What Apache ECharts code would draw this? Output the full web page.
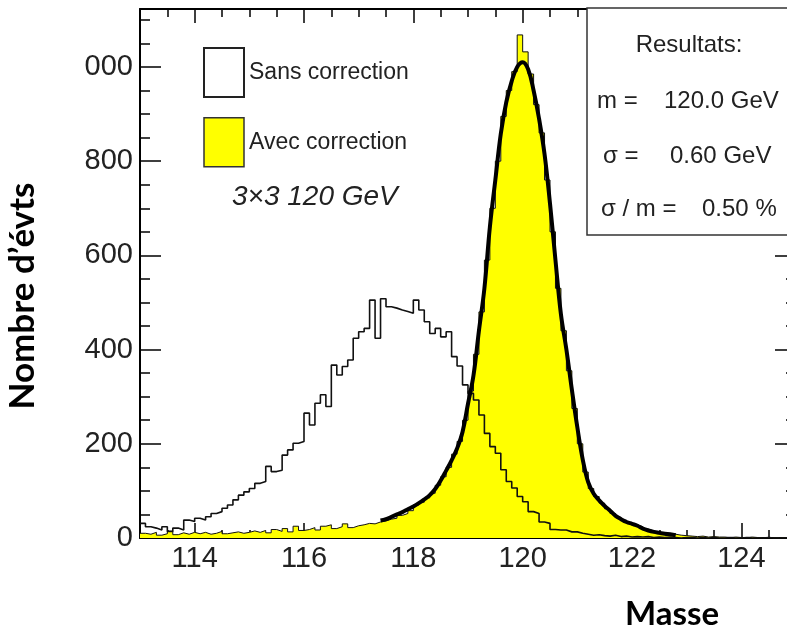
<!DOCTYPE html>
<html>
<head>
<meta charset="utf-8">
<script src="https://cdn.jsdelivr.net/npm/echarts@6/dist/echarts.min.js"></script>
<style>
  html, body { margin: 0; padding: 0; background: #fff; overflow: hidden; width: 787px; height: 630px; }
  #chart { width: 796px; height: 630px; }
</style>
</head>
<body>
<div id="chart"></div>
<script>
// ---- Data ----
const massMin = 113;      // lower edge of first bin (GeV)
const massMax = 125;      // upper edge of last bin (GeV)
const binWidth = 0.1;     // GeV

// "Sans correction" histogram, 120 bins of 0.1 GeV from 113.0
const sansCorrection = [
  31, 24, 21, 17, 24, 14, 21, 17, 38, 35,
  42, 38, 45, 52, 56, 63, 70, 81, 91, 98,
  105, 116, 120, 152, 141, 144, 176, 187, 201, 205,
  265, 240, 286, 304, 279, 367, 346, 364, 378, 424,
  438, 445, 505, 424, 508, 491, 488, 484, 481, 477,
  505, 484, 459, 434, 445, 427, 438, 385, 365, 325,
  307, 293, 261, 222, 194, 180, 145, 120, 106, 88,
  77, 56, 52, 34, 31, 18, 17, 17, 13, 13,
  10, 8, 6, 7, 5, 4, 6, 3, 4, 2,
  3, 2, 3, 1, 2, 1, 2, 1, 0, 1,
  1, 0, 1, 0, 1, 0, 0, 1, 0, 0,
  1, 0, 0, 0, 1, 0, 0, 0, 0, 0
];

// "Avec correction" histogram, same binning
const avecCorrection = [
  10, 8, 12, 6, 9, 14, 7, 11, 8, 12,
  9, 12, 8, 10, 14, 9, 11, 13, 10, 12,
  15, 12, 16, 11, 18, 14, 20, 13, 25, 16,
  18, 22, 17, 25, 28, 20, 24, 30, 22, 26,
  28, 31, 30, 34, 36, 40, 42, 48, 52, 58,
  70, 76, 85, 95, 112, 130, 150, 178, 205, 250,
  312, 390, 480, 590, 700, 800, 895, 950, 990, 1068,
  1032, 985, 920, 860, 760, 650, 530, 440, 355, 275,
  200, 140, 105, 88, 74, 62, 52, 44, 38, 32,
  28, 24, 19, 15, 12, 11, 9, 8, 6, 5,
  4, 3, 4, 2, 3, 2, 2, 1, 2, 1,
  1, 2, 1, 0, 1, 1, 0, 1, 0, 0
];

// Fit curve (mass in GeV, counts)
const fitMass = [
  117.4, 117.5, 117.6, 117.7, 117.8, 117.9, 118.0, 118.1, 118.2, 118.3,
  118.4, 118.5, 118.6, 118.7, 118.8, 118.9, 119.0, 119.1, 119.2, 119.3,
  119.4, 119.5, 119.6, 119.7, 119.8, 119.9, 120.0, 120.1, 120.2, 120.3,
  120.4, 120.5, 120.6, 120.7, 120.8, 120.9, 121.0, 121.1, 121.2, 121.3,
  121.4, 121.5, 121.6, 121.7, 121.8, 121.9, 122.0, 122.1, 122.2, 122.3,
  122.4, 122.5, 122.6, 122.7, 122.8
];
const fitValues = [
  37, 40, 45, 50, 55, 61, 67, 74, 82, 91,
  104, 122, 143, 165, 190, 225, 285, 345, 440, 530,
  660, 760, 858, 925, 970, 1000, 1010, 995, 950, 890,
  815, 710, 590, 475, 400, 315, 235, 166, 118, 94,
  80, 68, 58, 47, 40, 34, 30, 26, 20, 16,
  13, 11, 9, 8, 6
];

const yMax = 1123;
const yTickValues = [0, 200, 400, 600, 800, 1000];
const yTickLabels = ['0', '200', '400', '600', '800', '000'];

const seriesNames = ['Sans correction', 'Avec correction'];
const resultLines = [
  ['m =', '120.0 GeV'],
  ['\u03c3 =', '0.60 GeV'],
  ['\u03c3 / m =', '0.50 %']
];

// ---- Build step points: left edges + closing right edge ----
function stepPoints(values) {
  const pts = values.map((v, i) => [+(massMin + i * binWidth).toFixed(2), v]);
  pts.push([massMax, values[values.length - 1]]);
  return pts;
}
const fitPts = fitMass.map((m, i) => [m, fitValues[i]]);

const FONT = '"Liberation Sans", Arial, Helvetica, sans-serif';
const TITLE_FONT = 'Lato, "Open Sans", sans-serif';

const chart = echarts.init(document.getElementById('chart'), null, { renderer: 'canvas' });

const axisLineStyle = { color: '#000', width: 2 };
const tickStyle = { color: '#000', width: 1.5 };

const option = {
  animation: false,
  backgroundColor: '#fff',
  grid: { left: 140, top: 9, right: 0, bottom: 92 },
  legend: {
    orient: 'vertical',
    left: 203, top: 47,
    padding: 0,
    itemWidth: 40, itemHeight: 49, itemGap: 19,
    selectedMode: false,
    textStyle: { fontFamily: FONT, fontSize: 23, color: '#222' },
    data: [
      { name: seriesNames[0], icon: 'rect', itemStyle: { color: '#ffffff', borderColor: '#222', borderWidth: 2 } },
      { name: seriesNames[1], icon: 'rect', itemStyle: { color: '#ffff00', borderColor: '#333', borderWidth: 1.5 } }
    ]
  },
  xAxis: [
    {
      type: 'value', min: massMin, max: massMax, splitNumber: 6, position: 'bottom',
      axisLine: { onZero: false, lineStyle: axisLineStyle },
      axisTick: { inside: true, length: 15, lineStyle: tickStyle },
      minorTick: { show: true, splitNumber: 4, length: 8, lineStyle: tickStyle },
      axisLabel: { showMinLabel: false, showMaxLabel: false, margin: 6, fontSize: 29, fontFamily: FONT, color: '#222' },
      splitLine: { show: false }
    },
    {
      type: 'value', min: massMin, max: massMax, splitNumber: 6, position: 'top',
      axisLine: { onZero: false, lineStyle: axisLineStyle },
      axisTick: { inside: true, length: 14, lineStyle: tickStyle },
      minorTick: { show: true, splitNumber: 4, length: 8, lineStyle: tickStyle },
      axisLabel: { show: false },
      splitLine: { show: false }
    }
  ],
  yAxis: [
    {
      type: 'value', min: 0, max: yMax, interval: 200, position: 'left',
      axisLine: { show: true, onZero: false, lineStyle: axisLineStyle },
      axisTick: { show: true, inside: true, length: 21, lineStyle: tickStyle },
      minorTick: { show: true, splitNumber: 4, length: 10, lineStyle: tickStyle },
      axisLabel: {
        showMaxLabel: false, margin: 7, fontSize: 29, fontFamily: FONT, color: '#222',
        formatter: v => { const k = yTickValues.indexOf(v); return k >= 0 ? yTickLabels[k] : ''; }
      },
      splitLine: { show: false }
    },
    {
      type: 'value', min: 0, max: yMax, interval: 200, position: 'right',
      axisLine: { show: true, onZero: false, lineStyle: axisLineStyle },
      axisTick: { show: true, inside: true, length: 21, lineStyle: tickStyle },
      minorTick: { show: true, splitNumber: 4, length: 10, lineStyle: tickStyle },
      axisLabel: { show: false },
      splitLine: { show: false }
    }
  ],
  series: [
    {
      name: seriesNames[1], type: 'line', step: 'end', data: stepPoints(avecCorrection),
      symbol: 'none', z: 2,
      lineStyle: { color: '#111', width: 1 },
      itemStyle: { color: '#ffff00' },
      areaStyle: { color: '#ffff00', opacity: 1 }
    },
    {
      name: seriesNames[0], type: 'line', step: 'end', data: stepPoints(sansCorrection),
      symbol: 'none', z: 3,
      lineStyle: { color: '#111', width: 1.6 },
      itemStyle: { color: '#ffffff' }
    },
    {
      name: 'fit', type: 'line', smooth: 0.4, data: fitPts,
      symbol: 'none', z: 4,
      lineStyle: { color: '#000', width: 4 }
    }
  ],
  graphic: [
    {
      type: 'rect', z: 100,
      shape: { x: 587, y: 8, width: 220, height: 227 },
      style: { fill: '#fff', stroke: '#333', lineWidth: 1.5 }
    },
    { type: 'text', z: 101, x: 689, y: 45, style: { text: 'Resultats:', font: '24px ' + FONT, fill: '#222', textAlign: 'center', textVerticalAlign: 'middle' } },
    { type: 'text', z: 101, x: 597, y: 101, style: { text: resultLines[0][0], font: '24px ' + FONT, fill: '#222', textAlign: 'left', textVerticalAlign: 'middle' } },
    { type: 'text', z: 101, x: 664, y: 101, style: { text: resultLines[0][1], font: '24px ' + FONT, fill: '#222', textAlign: 'left', textVerticalAlign: 'middle' } },
    { type: 'text', z: 101, x: 603, y: 156, style: { text: resultLines[1][0], font: '24px ' + FONT, fill: '#222', textAlign: 'left', textVerticalAlign: 'middle' } },
    { type: 'text', z: 101, x: 670, y: 156, style: { text: resultLines[1][1], font: '24px ' + FONT, fill: '#222', textAlign: 'left', textVerticalAlign: 'middle' } },
    { type: 'text', z: 101, x: 601, y: 209, style: { text: resultLines[2][0], font: '24px ' + FONT, fill: '#222', textAlign: 'left', textVerticalAlign: 'middle' } },
    { type: 'text', z: 101, x: 702, y: 209, style: { text: resultLines[2][1], font: '24px ' + FONT, fill: '#222', textAlign: 'left', textVerticalAlign: 'middle' } },
    { type: 'text', z: 101, x: 232, y: 197, style: { text: '3\u00d73 120 GeV', font: 'italic 28px ' + FONT, fill: '#222', textAlign: 'left', textVerticalAlign: 'middle' } },
    { type: 'text', z: 101, x: 23, y: 296, rotation: Math.PI / 2, style: { text: 'Nombre d\u2019\u00e9vts', font: 'bold 35px ' + TITLE_FONT, fill: '#000', textAlign: 'center', textVerticalAlign: 'middle' } },
    { type: 'text', z: 101, x: 672, y: 614, style: { text: 'Masse', font: 'bold 33px ' + TITLE_FONT, fill: '#000', textAlign: 'center', textVerticalAlign: 'middle' } }
  ]
};

chart.setOption(option);
</script>
</body>
</html>
